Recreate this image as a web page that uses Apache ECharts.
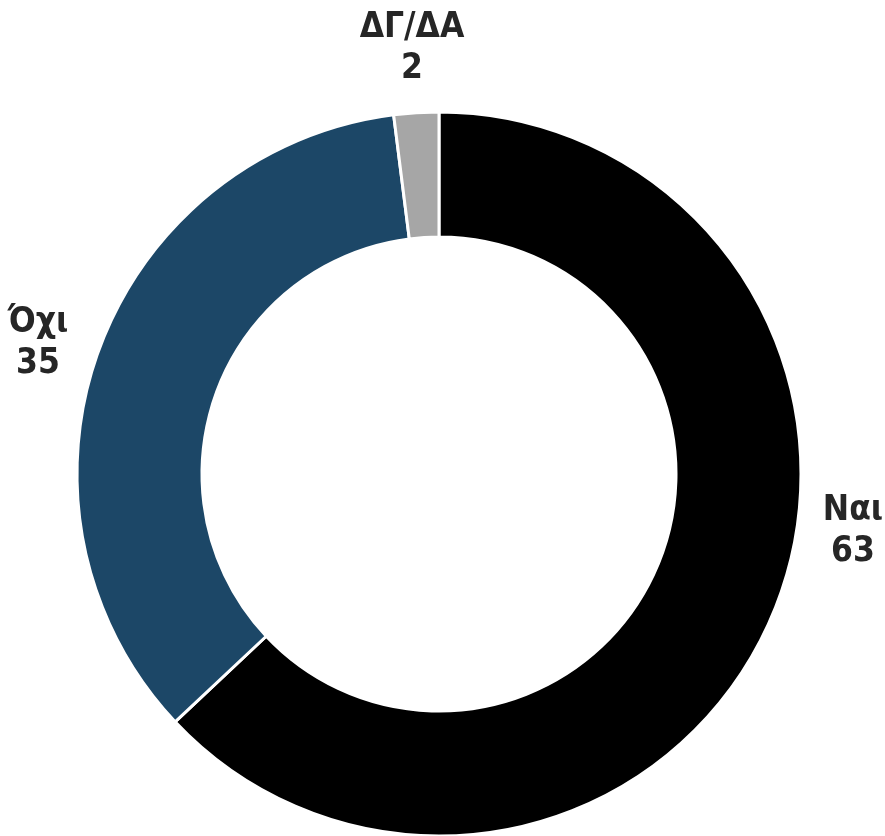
<!DOCTYPE html>
<html><head><meta charset="utf-8">
<script src="https://cdn.jsdelivr.net/npm/echarts@6/dist/echarts.min.js"></script>
<style>html,body{margin:0;padding:0;background:#fff}#c{width:885px;height:836px}</style>
</head><body><div id="c"></div>
<script>
const categories = ['Ναι', 'Όχι', 'ΔΓ/ΔΑ'];
const values = [63, 35, 2];
const colors = ['#000000', '#1c4767', '#a6a6a6'];
const labelSpots = [[853, 531], [38, 343], [412, 48]];

const chart = echarts.init(document.getElementById('c'), null, {renderer: 'canvas'});
chart.setOption({
  animation: false,
  series: [{
    type: 'pie',
    center: [439, 474],
    radius: [237, 362],
    startAngle: 90,
    clockwise: true,
    data: categories.map((n, i) => ({name: n, value: values[i], itemStyle: {color: colors[i]}})),
    itemStyle: {borderColor: '#fff', borderWidth: 3},
    label: {
      show: true,
      position: 'outside',
      formatter: '{b}\n{c}',
      fontFamily: '"DejaVu Sans Condensed", "Liberation Sans Narrow", sans-serif',
      fontWeight: 'bold',
      fontSize: 35,
      lineHeight: 41,
      color: '#262626',
      align: 'center',
      overflow: 'none',
      width: 200
    },
    labelLine: {show: false},
    labelLayout: function (p) {
      const s = labelSpots[p.dataIndex];
      return {x: s[0], y: s[1], align: 'center', verticalAlign: 'middle'};
    },
    emphasis: {disabled: true}
  }]
});
</script></body></html>
